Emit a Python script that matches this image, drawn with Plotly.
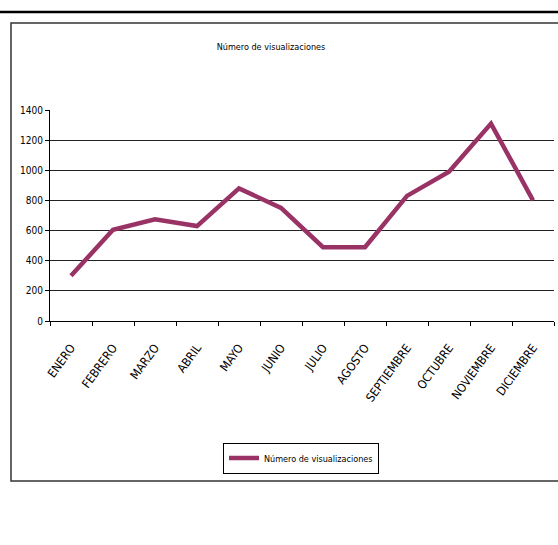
import plotly.graph_objects as go

months = ["ENERO", "FEBRERO", "MARZO", "ABRIL", "MAYO", "JUNIO", "JULIO",
          "AGOSTO", "SEPTIEMBRE", "OCTUBRE", "NOVIEMBRE", "DICIEMBRE"]
views = [300, 605, 675, 630, 880, 750, 490, 490, 830, 990, 1310, 800]
y_ticks = [0, 200, 400, 600, 800, 1000, 1200, 1400]
grid_vals = [200, 400, 600, 800, 1000, 1200]
series_name = "Número de visualizaciones"

FONT = "DejaVu Sans Condensed, Liberation Sans Narrow, Arial Narrow, Liberation Sans, Arial, sans-serif"
W, H = 558, 545
L, R, T, B = 50, 4, 110, 224
pw, ph = W - L - R, H - T - B

def px_x(p):
    return (p - L) / pw

def px_y(p):
    return (H - B - p) / ph

fig = go.Figure()
fig.add_trace(go.Scatter(
    x=months, y=views, mode="lines", name=series_name,
    line=dict(color="#993366", width=4.5), showlegend=True,
))
fig.add_trace(go.Scatter(x=months, y=views, yaxis="y2", mode="lines",
                         line=dict(width=0), showlegend=False, hoverinfo="skip",
                         opacity=0))

fig.update_layout(
    width=W, height=H,
    margin=dict(l=L, r=R, t=T, b=B),
    paper_bgcolor="white", plot_bgcolor="white",
    font=dict(family=FONT, size=10, color="black"),
    title=dict(text=series_name, x=271 / W, xanchor="center",
               y=1 - 47 / H, yanchor="middle",
               font=dict(family=FONT, size=9, color="black")),
    xaxis=dict(type="category", showgrid=False, showline=True, linecolor="black",
               linewidth=1, ticks="outside", ticklen=4, tickcolor="black",
               tickson="boundaries", tickangle=-54, ticklabelstandoff=14,
               tickfont=dict(family=FONT, size=12, color="black"),
               range=[-0.5, 11.5]),
    yaxis=dict(range=[0, 1400], tickvals=y_ticks, showgrid=False, zeroline=False,
               showline=True, linecolor="black", linewidth=1, ticks="outside",
               ticklen=4, tickcolor="black",
               tickfont=dict(family=FONT, size=10, color="black")),
    yaxis2=dict(overlaying="y", matches="y", range=[0, 1400], tickvals=grid_vals,
                showgrid=True, gridcolor="#222222", gridwidth=1,
                showticklabels=False, ticks="", showline=False, zeroline=False),
    legend=dict(x=px_x(301), y=px_y(458), xanchor="center", yanchor="middle",
                orientation="h", bordercolor="black", borderwidth=1,
                bgcolor="white", font=dict(family=FONT, size=9, color="black"),
                itemwidth=30, tracegroupgap=0),
    shapes=[
        dict(type="line", xref="paper", yref="paper",
             x0=px_x(0), x1=px_x(W), y0=px_y(12), y1=px_y(12),
             line=dict(color="black", width=2.5)),
        dict(type="rect", xref="paper", yref="paper",
             x0=px_x(11), x1=px_x(W + 5), y0=px_y(481), y1=px_y(23),
             line=dict(color="#333333", width=1.5), layer="below"),
    ],
)

fig.write_html("out.html", config={"displayModeBar": False},
               post_script="document.body.style.margin='0';document.body.style.overflow='hidden';")
